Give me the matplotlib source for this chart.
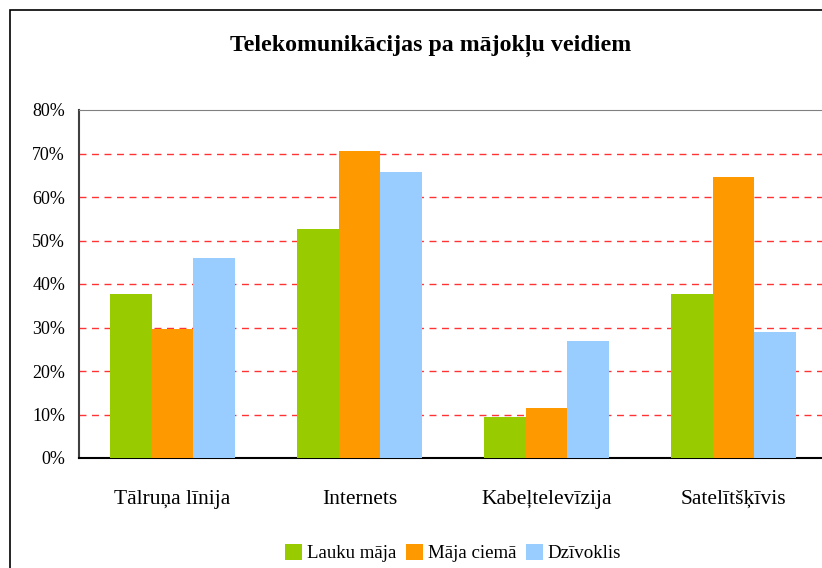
import numpy as np
import matplotlib
matplotlib.use("Agg")
import matplotlib.pyplot as plt
from matplotlib.patches import Rectangle

categories = ["Tālruņa līnija", "Internets", "Kabeļtelevīzija", "Satelītšķīvis"]
series_names = ["Lauku māja", "Māja ciemā", "Dzīvoklis"]
lauku_maja = [37.7, 52.6, 9.4, 37.7]
maja_ciema = [29.7, 70.6, 11.5, 64.6]
dzivoklis = [46.0, 65.7, 26.9, 29.0]
colors = ["#99cc00", "#ff9900", "#99ccff"]

plt.rcParams['font.family'] = ['Liberation Serif', 'DejaVu Serif']

fig = plt.figure(figsize=(8.22, 5.68), dpi=100)
fig.patches.append(Rectangle((10 / 822, -0.2), 1.2, 1 - 10 / 568 + 0.2,
                             transform=fig.transFigure, fill=False,
                             edgecolor="black", linewidth=1.2))

ax = fig.add_axes([79 / 822, 1 - 458 / 568, 748 / 822, 348 / 568])

x = np.arange(len(categories))
w = 0.222
for i, (vals, name) in enumerate(zip([lauku_maja, maja_ciema, dzivoklis], series_names)):
    ax.bar(x + (i - 1) * w, vals, width=w, color=colors[i], label=name, zorder=3)

ax.set_xlim(-0.5, 3.5)
ax.set_ylim(0, 80)
ax.set_yticks(range(0, 81, 10))
ax.set_yticklabels([f"{v}%" for v in range(0, 81, 10)], fontsize=13)
ax.set_xticks(x)
ax.set_xticklabels(categories, fontsize=15.5)
ax.tick_params(axis='x', length=0, pad=23)
ax.tick_params(axis='y', length=0, pad=10)

for v in range(10, 80, 10):
    ax.axhline(v, color="#ff3333", linestyle=(0, (5, 4)), linewidth=1, zorder=1)

ax.spines['top'].set_color("#808080")
ax.spines['left'].set_color("#404040")
ax.spines['bottom'].set_color("black")
ax.spines['right'].set_visible(False)
ax.spines['left'].set_linewidth(1.5)
ax.spines['bottom'].set_linewidth(1.5)

fig.text(431 / 822, 1 - 46 / 568, "Telekomunikācijas pa mājokļu veidiem",
         ha="center", va="center", fontsize=17.2, fontweight="bold")

fig.legend(loc="center", bbox_to_anchor=(453 / 822, 1 - 553 / 568), ncol=3,
           frameon=False, fontsize=13.6, handlelength=0.9, handleheight=0.9,
           handletextpad=0.25, columnspacing=0.5)

fig.savefig("out.png", dpi=100)
